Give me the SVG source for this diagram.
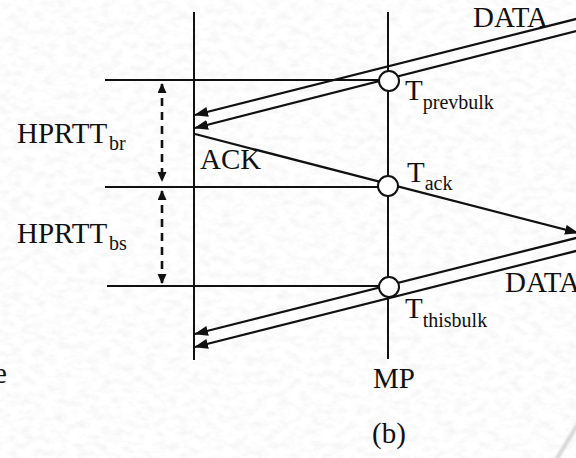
<svg xmlns="http://www.w3.org/2000/svg" width="576" height="458" viewBox="0 0 576 458">
  <defs>
    <style>
      .txt { font-family: "Liberation Serif", "Times New Roman", serif; fill: #111; }
      .big { font-size: 29px; }
      .sub { font-size: 20px; }
      .axis { stroke: #111; stroke-width: 2; fill: none; }
      .rule { stroke: #111; stroke-width: 1.8; fill: none; }
      .msg { stroke: #111; stroke-width: 2.2; fill: none; marker-end: url(#head); }
      .span { stroke: #111; stroke-width: 2.6; fill: none; stroke-dasharray: 8 6; marker-start: url(#tip); marker-end: url(#tip); }
      .event { fill: #fff; stroke: #111; stroke-width: 2; }
    </style>
    <!-- filled arrowhead for packet lines -->
    <marker id="head" markerUnits="userSpaceOnUse" markerWidth="16" markerHeight="12" refX="13" refY="5" orient="auto">
      <path d="M0,0 L14,5 L0,10 Z" fill="#111"/>
    </marker>
    <!-- small arrowhead for the dashed interval arrows -->
    <marker id="tip" markerUnits="userSpaceOnUse" markerWidth="12" markerHeight="10" refX="9" refY="4.5" orient="auto-start-reverse">
      <path d="M0,0 L10,4.5 L0,9 Z" fill="#111"/>
    </marker>
    <!-- grainy paper texture -->
    <filter id="paper" x="0" y="0" width="100%" height="100%">
      <feTurbulence type="fractalNoise" baseFrequency="0.09 0.14" numOctaves="3" seed="7"/>
      <feColorMatrix type="matrix" values="0.2 0 0 0 0.88  0.2 0 0 0 0.88  0.2 0 0 0 0.88  0 0 0 0 1"/>
    </filter>
    <filter id="soft" x="-50%" y="-50%" width="200%" height="200%">
      <feGaussianBlur stdDeviation="1.2"/>
    </filter>
  </defs>

  <!-- background -->
  <rect width="576" height="458" fill="#f6f6f6"/>
  <rect width="576" height="458" filter="url(#paper)"/>
  <path d="M578,424 L556,460" stroke="#d6d6d6" stroke-width="4" filter="url(#soft)"/>

  <!-- timelines -->
  <g id="host-line">
    <line class="axis" x1="194" y1="12" x2="194" y2="360"/>
  </g>
  <g id="mp-line">
    <line class="axis" x1="388" y1="12" x2="388" y2="359"/>
    <text class="txt big" x="373" y="388">MP</text>
  </g>

  <!-- reference levels and packet exchanges -->
  <g id="connectors">
    <line class="rule" x1="105" y1="80" x2="388" y2="80"/>
    <line class="rule" x1="105" y1="187" x2="388" y2="187"/>
    <line class="rule" x1="107" y1="286" x2="388" y2="286"/>

    <line class="msg" x1="580" y1="18" x2="195" y2="115"/>
    <line class="msg" x1="580" y1="30" x2="195" y2="128"/>
    <line class="msg" x1="195" y1="134" x2="578" y2="233"/>
    <line class="msg" x1="580" y1="237" x2="195" y2="334"/>
    <line class="msg" x1="580" y1="250" x2="195" y2="347"/>

    <line class="span" x1="162" y1="84" x2="162" y2="181"/>
    <line class="span" x1="162" y1="191" x2="162" y2="283"/>
  </g>

  <!-- observation points at the MP -->
  <g id="t-prevbulk">
    <circle class="event" cx="389" cy="81" r="10"/>
    <text class="txt big" x="405" y="100">T<tspan class="sub" dy="9">prevbulk</tspan></text>
  </g>
  <g id="t-ack">
    <circle class="event" cx="388" cy="186" r="10"/>
    <text class="txt big" x="407" y="182">T<tspan class="sub" dy="8">ack</tspan></text>
  </g>
  <g id="t-thisbulk">
    <circle class="event" cx="389" cy="287" r="10"/>
    <text class="txt big" x="405" y="318">T<tspan class="sub" dy="9">thisbulk</tspan></text>
  </g>

  <!-- labels -->
  <g id="labels">
    <text class="txt big" x="17" y="143">HPRTT<tspan class="sub" dx="2" dy="7">br</tspan></text>
    <text class="txt big" x="17" y="243">HPRTT<tspan class="sub" dx="2" dy="7">bs</tspan></text>
    <text class="txt big" x="200" y="169">ACK</text>
    <text class="txt big" x="473" y="27">DATA</text>
    <text class="txt big" x="505" y="292">DATA</text>
    <text class="txt big" x="-6" y="383">e</text>
    <text class="txt big" x="372" y="443">(b)</text>
  </g>
</svg>
